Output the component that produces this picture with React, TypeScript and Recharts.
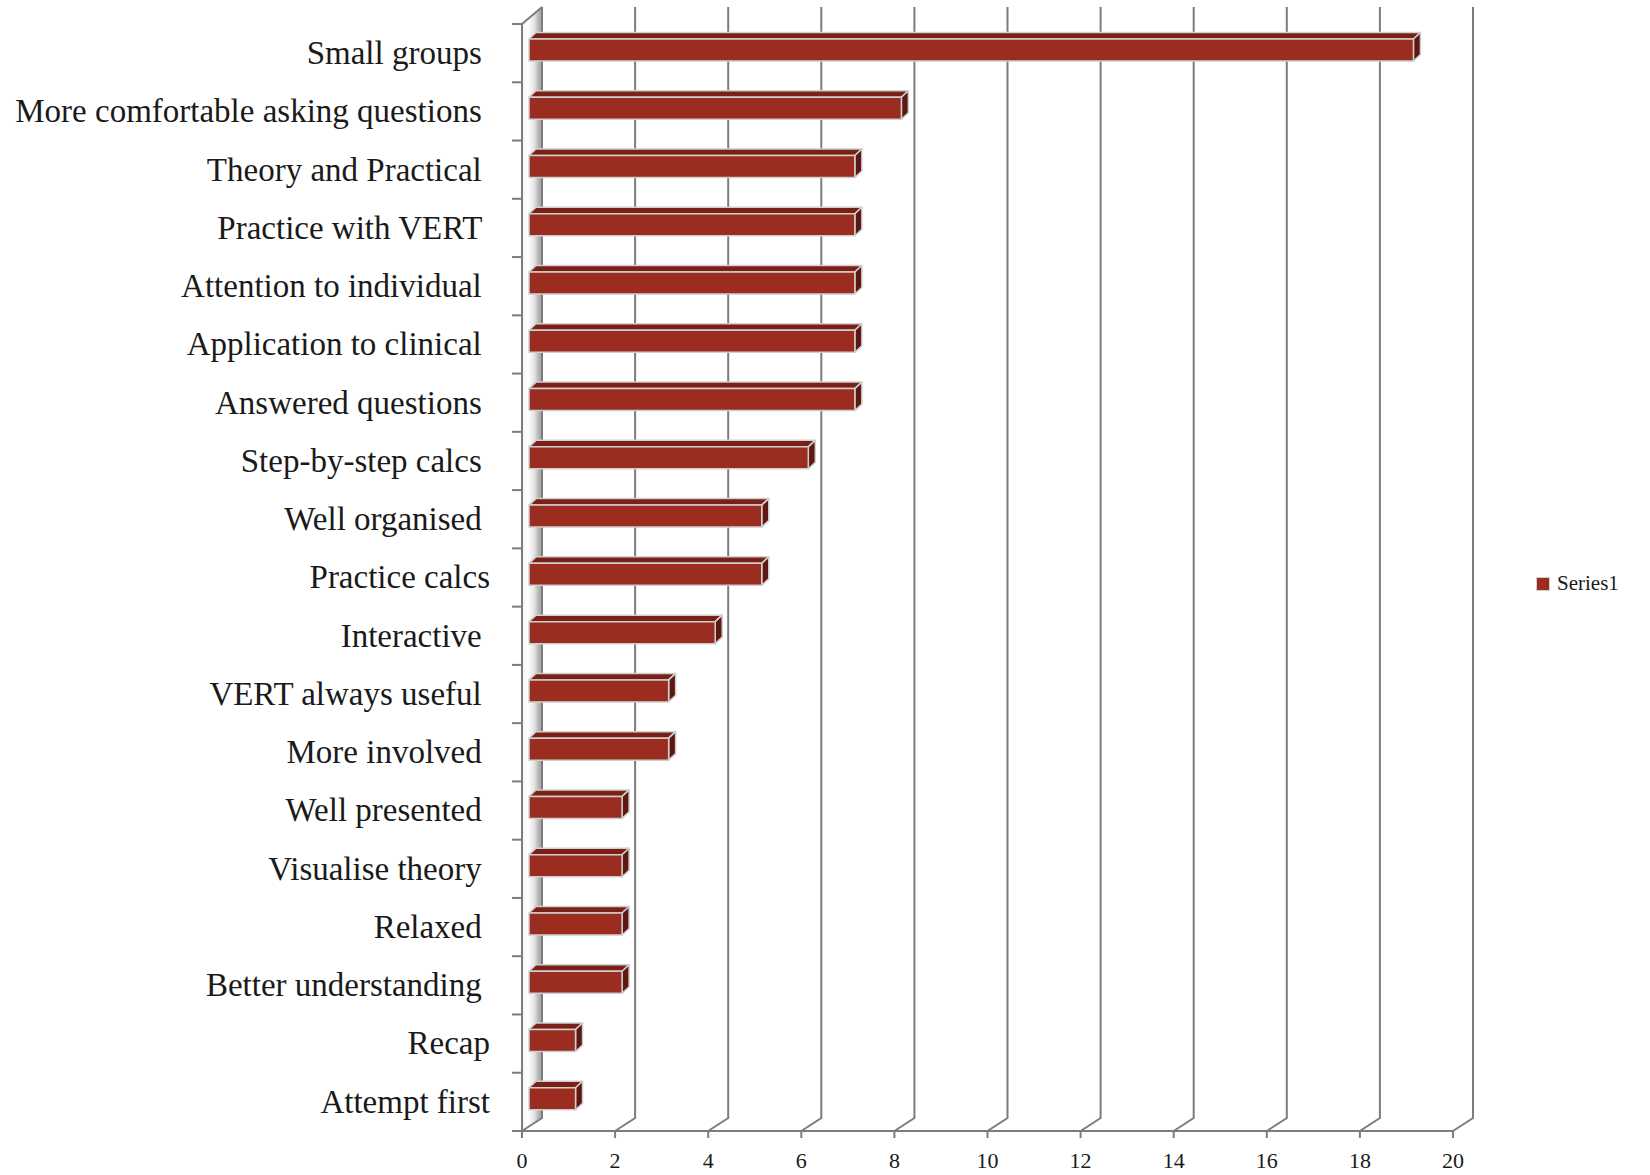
import React from 'react';
import { BarChart, Bar, XAxis, YAxis, CartesianGrid } from 'recharts';

const categories = [
  'Small groups ',
  'More comfortable asking questions ',
  'Theory and Practical ',
  'Practice with VERT ',
  'Attention to individual ',
  'Application to clinical ',
  'Answered questions ',
  'Step-by-step calcs ',
  'Well organised ',
  'Practice calcs',
  'Interactive ',
  'VERT always useful ',
  'More involved ',
  'Well presented ',
  'Visualise theory ',
  'Relaxed ',
  'Better understanding ',
  'Recap',
  'Attempt first',
];
const series1 = [19, 8, 7, 7, 7, 7, 7, 6, 5, 5, 4, 3, 3, 2, 2, 2, 2, 1, 1];
const xTicks = [0, 2, 4, 6, 8, 10, 12, 14, 16, 18, 20];

const data = categories.map((name, i) => ({ name, value: series1[i] }));

// 3D look, all in px
const DX = 20; // wall/floor depth
const DY_BOTTOM = 13;
const DY_TOP = 17;
const BAR_DX = 7;
const BAR_DY = 6.5;
const AXIS_COLOR = '#7c7c7c';
const FONT = '"Liberation Serif", "DejaVu Serif", serif';

const Bar3D = (props: any) => {
  const { x, y, width, height } = props;
  if (!width || width <= 0) return null;
  const fx = x + BAR_DX;
  const fy = y - 3;
  const r = fx + width;
  const b = fy + height;
  return (
    <g stroke="#cfcfcf" strokeWidth={1.5} strokeLinejoin="round">
      <polygon
        points={`${fx},${fy} ${fx + BAR_DX},${fy - BAR_DY} ${r + BAR_DX},${fy - BAR_DY} ${r},${fy}`}
        fill="#7a2017"
      />
      <polygon
        points={`${r},${fy} ${r + BAR_DX},${fy - BAR_DY} ${r + BAR_DX},${b - BAR_DY} ${r},${b}`}
        fill="#5f1711"
      />
      <rect x={fx} y={fy} width={width} height={height} fill="#9b2c20" />
    </g>
  );
};

// back-wall gridlines with the floor diagonal; the first one also draws the left wall
const GridLine = (p: any) => {
  const { x1, y1, y2, index } = p;
  return (
    <g key={p.key}>
      {index === 0 && (
        <g>
          <defs>
            <linearGradient id="wallGrad" x1="0" y1="0" x2="1" y2="0">
              <stop offset="0%" stopColor="#f4f4f4" />
              <stop offset="30%" stopColor="#ffffff" />
              <stop offset="60%" stopColor="#e6e6e6" />
              <stop offset="90%" stopColor="#a8a8a8" />
              <stop offset="100%" stopColor="#bdbdbd" />
            </linearGradient>
          </defs>
          <polygon
            points={`${x1},${y1} ${x1 + DX},${y1 - DY_TOP} ${x1 + DX},${y2 - DY_BOTTOM} ${x1},${y2}`}
            fill="url(#wallGrad)"
          />
          <line x1={x1} y1={y1} x2={x1 + DX} y2={y1 - DY_TOP} stroke={AXIS_COLOR} strokeWidth={2} />
        </g>
      )}
      <path
        d={`M${x1},${y2} L${x1 + DX},${y2 - DY_BOTTOM} L${x1 + DX},${y1 - DY_TOP}`}
        fill="none"
        stroke={AXIS_COLOR}
        strokeWidth={2}
      />
    </g>
  );
};

const CategoryTick = (props: any) => {
  const { x, y, payload, index, visibleTicksCount } = props;
  const half = payload && payload.offset ? payload.offset : 29;
  const top = y - half;
  const isLast = index === visibleTicksCount - 1;
  return (
    <g>
      <line x1={x - 10} y1={top} x2={x} y2={top} stroke={AXIS_COLOR} strokeWidth={2} />
      {isLast && <line x1={x - 10} y1={y + half} x2={x} y2={y + half} stroke={AXIS_COLOR} strokeWidth={2} />}
      <text
        x={x - 32}
        y={y}
        dy="0.33em"
        textAnchor="end"
        fontFamily={FONT}
        fontSize={33}
        fill="#1a1a1a"
        style={{ whiteSpace: 'pre' }}
      >
        {payload.value}
      </text>
    </g>
  );
};

const ValueTick = (props: any) => {
  const { x, y, payload } = props;
  return (
    <text x={x} y={y + 30} textAnchor="middle" fontFamily={FONT} fontSize={22} fill="#1a1a1a">
      {payload.value}
    </text>
  );
};

export default function App() {
  return (
    <div style={{ position: 'absolute', left: 0, top: 0, width: 1650, height: 1175, background: '#fff' }}>
      <BarChart
        width={1650}
        height={1175}
        data={data}
        layout="vertical"
        margin={{ top: 24, right: 197, left: 0, bottom: 0 }}
        barSize={22}
      >
        <CartesianGrid horizontal={false} vertical={GridLine} />
        <YAxis
          type="category"
          dataKey="name"
          width={522}
          interval={0}
          tickSize={0}
          tickMargin={0}
          tickLine={false}
          axisLine={{ stroke: AXIS_COLOR, strokeWidth: 2 }}
          tick={<CategoryTick />}
        />
        <XAxis
          type="number"
          domain={[0, 20]}
          ticks={xTicks}
          interval={0}
          height={44}
          tickSize={7}
          tickMargin={0}
          axisLine={{ stroke: AXIS_COLOR, strokeWidth: 2 }}
          tickLine={{ stroke: AXIS_COLOR, strokeWidth: 2 }}
          tick={<ValueTick />}
        />
        <Bar dataKey="value" name="Series1" shape={<Bar3D />} isAnimationActive={false} />
      </BarChart>
      <div
        style={{
          position: 'absolute',
          left: 1536,
          top: 571,
          display: 'flex',
          alignItems: 'center',
          fontFamily: FONT,
          fontSize: 21,
          color: '#1a1a1a',
        }}
      >
        <span
          style={{
            display: 'inline-block',
            width: 12,
            height: 12,
            background: '#9b2c20',
            border: '1px solid #cfcfcf',
            marginRight: 7,
          }}
        />
        Series1
      </div>
    </div>
  );
}
